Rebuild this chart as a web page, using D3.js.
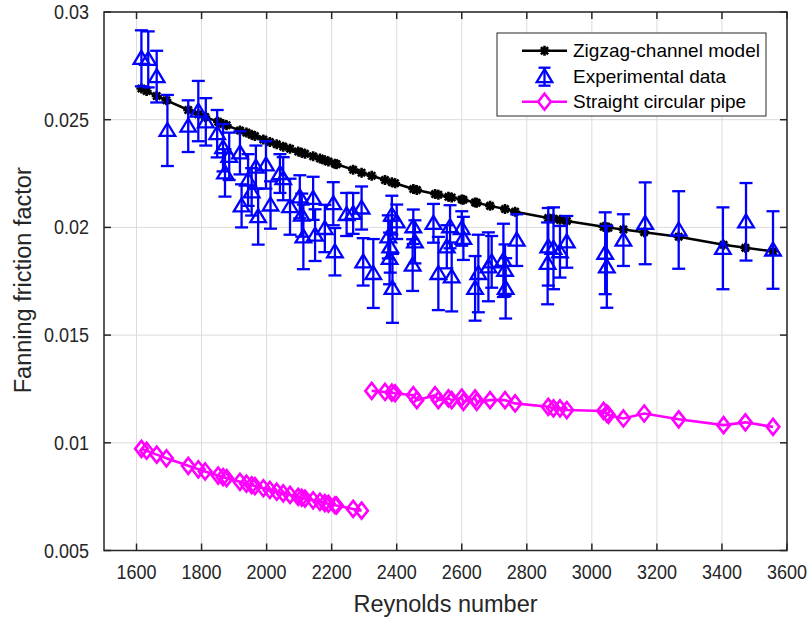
<!DOCTYPE html>
<html>
<head>
<meta charset="utf-8">
<script src="https://cdn.jsdelivr.net/npm/d3@7"></script>
<style>
  html, body { margin: 0; padding: 0; background: #ffffff; }
  svg { display: block; font-family: "Liberation Sans", Arial, Helvetica, sans-serif; }
</style>
</head>
<body>
<svg id="chart" width="812" height="623"></svg>
<script>
// Reynolds numbers of the laminar (Re < 2300) and turbulent test runs
const reLam = [1615, 1631, 1662, 1692, 1759, 1790, 1811, 1851, 1866, 1877,
  1918, 1938, 1954, 1964, 1990, 2010, 2031, 2051, 2072, 2097,
  2108, 2118, 2143, 2164, 2179, 2190, 2210, 2215, 2266, 2292];
const reTurb = [2323, 2364, 2385, 2395, 2451, 2462, 2518, 2528, 2559, 2569,
  2600, 2605, 2641, 2646, 2687, 2733, 2764, 2866, 2882, 2902,
  2923, 3036, 3046, 3051, 3097, 3161, 3267, 3405, 3472, 3557];

// Zigzag-channel model prediction at every run (laminar runs, then turbulent runs)
const modelF = [0.02645, 0.02633, 0.02610, 0.02590, 0.02545, 0.02525, 0.02513, 0.02490, 0.02480, 0.02474,
  0.02450, 0.02440, 0.02430, 0.02424, 0.02408, 0.02396, 0.02386, 0.02375, 0.02365, 0.02352,
  0.02347, 0.02342, 0.02330, 0.02320, 0.02312, 0.02306, 0.02296, 0.02293, 0.02268, 0.02254,
  0.02240, 0.02220, 0.02210, 0.02205, 0.02178, 0.02174, 0.02155, 0.02152, 0.02142, 0.02139,
  0.02130, 0.02128, 0.02116, 0.02114, 0.02100, 0.02085, 0.02073, 0.02044, 0.02040, 0.02035,
  0.02030, 0.02003, 0.02000, 0.01999, 0.01990, 0.01978, 0.01957, 0.01919, 0.01905, 0.01889];

// Straight circular pipe friction factor
const pipeLam = [0.00972, 0.00963, 0.00945, 0.00928, 0.00893, 0.00877, 0.00867, 0.00848, 0.00841, 0.00836,
  0.00819, 0.00810, 0.00803, 0.00799, 0.00789, 0.00781, 0.00773, 0.00765, 0.00758, 0.00749,
  0.00745, 0.00741, 0.00733, 0.00726, 0.00720, 0.00717, 0.00710, 0.00709, 0.00693, 0.00685];
const pipeTurb = [0.01241, 0.01236, 0.01233, 0.01230, 0.01221, 0.01198, 0.01221, 0.01198, 0.01206, 0.01198,
  0.01210, 0.01190, 0.01206, 0.01190, 0.01198, 0.01198, 0.01183, 0.01167, 0.01160, 0.01160,
  0.01152, 0.01148, 0.01136, 0.01129, 0.01113, 0.01136, 0.01109, 0.01082, 0.01095, 0.01074];

// Measured friction factor with its uncertainty
const expRe = [1615, 1636, 1662, 1695, 1759, 1790, 1813, 1848, 1866, 1872,
  1885, 1918, 1923, 1943, 1954, 1967, 1974, 1998, 2012, 2041,
  2051, 2072, 2102, 2108, 2113, 2143, 2149, 2179, 2205, 2210,
  2246, 2266, 2292, 2297, 2328, 2374, 2378, 2380, 2385, 2387,
  2400, 2449, 2451, 2456, 2513, 2528, 2554, 2564, 2569, 2600,
  2605, 2641, 2651, 2682, 2692, 2728, 2733, 2735, 2769, 2864,
  2866, 2882, 2902, 2923, 3041, 3046, 3097, 3164, 3267, 3403,
  3474, 3557];
const expF = [0.02785, 0.02780, 0.02700, 0.02450, 0.02470, 0.02540, 0.02490, 0.02435, 0.02370, 0.02253,
  0.02330, 0.02346, 0.02100, 0.02220, 0.02165, 0.02280, 0.02050, 0.02290, 0.02104, 0.02250,
  0.02226, 0.02096, 0.02142, 0.02057, 0.01956, 0.02135, 0.01964, 0.01995, 0.02110, 0.01887,
  0.02060, 0.02065, 0.02090, 0.01840, 0.01786, 0.01956, 0.01856, 0.01910, 0.02057, 0.01717,
  0.02026, 0.01825, 0.02003, 0.01933, 0.02019, 0.01786, 0.01910, 0.02003, 0.01770, 0.01995,
  0.01949, 0.01717, 0.01786, 0.01817, 0.01840, 0.01847, 0.01801, 0.01717, 0.01941, 0.01833,
  0.01910, 0.01903, 0.01887, 0.01933, 0.01880, 0.01817, 0.01941, 0.02019, 0.01988, 0.01903,
  0.02026, 0.01895];
const expErr = [0.00130, 0.00130, 0.00120, 0.00165, 0.00120, 0.00140, 0.00110, 0.00110, 0.00110, 0.00110,
  0.00110, 0.00100, 0.00100, 0.00120, 0.00110, 0.00100, 0.00130, 0.00110, 0.00110, 0.00090,
  0.00100, 0.00130, 0.00100, 0.00100, 0.00150, 0.00100, 0.00120, 0.00110, 0.00100, 0.00110,
  0.00100, 0.00095, 0.00100, 0.00110, 0.00160, 0.00100, 0.00120, 0.00120, 0.00090, 0.00160,
  0.00080, 0.00120, 0.00080, 0.00100, 0.00090, 0.00170, 0.00100, 0.00100, 0.00160, 0.00080,
  0.00100, 0.00150, 0.00180, 0.00160, 0.00120, 0.00170, 0.00120, 0.00140, 0.00120, 0.00190,
  0.00180, 0.00190, 0.00120, 0.00120, 0.00190, 0.00190, 0.00120, 0.00190, 0.00180, 0.00190,
  0.00180, 0.00180];

// Axis ticks
const xTicks = [1600, 1800, 2000, 2200, 2400, 2600, 2800, 3000, 3200, 3400, 3600];
const yTicks = [0.005, 0.01, 0.015, 0.02, 0.025, 0.03];
const yTickLabels = ["0.005", "0.01", "0.015", "0.02", "0.025", "0.03"];

const legendNames = ["Zigzag-channel model", "Experimental data", "Straight circular pipe"];

const colModel = "#000000", colExp = "#0000ff", colPipe = "#ff00ff", colAxis = "#262626";

const M = { left: 104, right: 787, top: 12, bottom: 550.5 };
const x = d3.scaleLinear().domain([1500, 3600]).range([M.left, M.right]);
const y = d3.scaleLinear().domain([0.005, 0.03]).range([M.bottom, M.top]);

const svg = d3.select("#chart");

// grid
const grid = svg.append("g").attr("stroke", "#dcdcdc").attr("stroke-width", 1);
grid.selectAll(".gx").data(xTicks).join("line")
  .attr("x1", d => x(d)).attr("x2", d => x(d)).attr("y1", M.top).attr("y2", M.bottom);
grid.selectAll(".gy").data(yTicks).join("line")
  .attr("x1", M.left).attr("x2", M.right).attr("y1", d => y(d)).attr("y2", d => y(d));

// marker shapes
const asterisk = r => `M${-r},0H${r}M0,${-r}V${r}M${-r*0.72},${-r*0.72}L${r*0.72},${r*0.72}M${-r*0.72},${r*0.72}L${r*0.72},${-r*0.72}`;
const triangle = "M0,-7.5L7.8,5.5L-7.8,5.5Z";
const diamond = "M0,-8L6.3,0L0,8L-6.3,0Z";

const reAll = reLam.concat(reTurb);
const model = reAll.map((r, i) => ({ r, f: modelF[i] }));
const lam = reLam.map((r, i) => ({ r, f: pipeLam[i] }));
const turb = reTurb.map((r, i) => ({ r, f: pipeTurb[i] }));
const exp = expRe.map((r, i) => ({ r, f: expF[i], e: expErr[i] }));

const line = d3.line().x(d => x(d.r)).y(d => y(d.f));

// model curve with asterisk markers
const gModel = svg.append("g");
gModel.append("path").datum(model).attr("d", line)
  .attr("fill", "none").attr("stroke", colModel).attr("stroke-width", 2.5);
gModel.selectAll("path.m").data(model).join("path").attr("class", "m")
  .attr("transform", d => `translate(${x(d.r)},${y(d.f)})`)
  .attr("d", asterisk(5)).attr("stroke", colModel).attr("stroke-width", 2.6).attr("fill", "none");

// experimental points with error bars
const gExp = svg.append("g").attr("stroke", colExp).attr("stroke-width", 2.3).attr("fill", "none");
const eb = gExp.selectAll("g").data(exp).join("g");
eb.append("line").attr("x1", d => x(d.r)).attr("x2", d => x(d.r))
  .attr("y1", d => y(d.f - d.e)).attr("y2", d => y(d.f + d.e));
eb.append("line").attr("x1", d => x(d.r) - 6.5).attr("x2", d => x(d.r) + 6.5)
  .attr("y1", d => y(d.f + d.e)).attr("y2", d => y(d.f + d.e));
eb.append("line").attr("x1", d => x(d.r) - 6.5).attr("x2", d => x(d.r) + 6.5)
  .attr("y1", d => y(d.f - d.e)).attr("y2", d => y(d.f - d.e));
eb.append("path").attr("d", triangle)
  .attr("transform", d => `translate(${x(d.r)},${y(d.f)})`);

// straight pipe: laminar and turbulent branches
const gPipe = svg.append("g").attr("stroke", colPipe).attr("stroke-width", 2.6).attr("fill", "none");
[lam, turb].forEach(seg => {
  gPipe.append("path").datum(seg).attr("d", line);
  gPipe.append("g").selectAll("path").data(seg).join("path")
    .attr("transform", d => `translate(${x(d.r)},${y(d.f)})`).attr("d", diamond);
});

// axes box with inward ticks on all four sides
const gAx = svg.append("g").attr("stroke", colAxis).attr("stroke-width", 1.5).attr("fill", "none");
gAx.append("rect").attr("x", M.left).attr("y", M.top)
  .attr("width", M.right - M.left).attr("height", M.bottom - M.top);
const tl = 7;
xTicks.forEach(t => {
  gAx.append("line").attr("x1", x(t)).attr("x2", x(t)).attr("y1", M.bottom).attr("y2", M.bottom - tl);
  gAx.append("line").attr("x1", x(t)).attr("x2", x(t)).attr("y1", M.top).attr("y2", M.top + tl);
});
yTicks.forEach(t => {
  gAx.append("line").attr("x1", M.left).attr("x2", M.left + tl).attr("y1", y(t)).attr("y2", y(t));
  gAx.append("line").attr("x1", M.right).attr("x2", M.right - tl).attr("y1", y(t)).attr("y2", y(t));
});

// tick labels (slightly tall glyphs)
const stretch = 1.08;
svg.append("g").selectAll("text").data(xTicks).join("text")
  .attr("transform", d => `translate(${x(d)},${M.bottom + 28}) scale(1,${stretch})`)
  .attr("text-anchor", "middle").attr("font-size", 18).attr("fill", colAxis)
  .text(d => d);
svg.append("g").selectAll("text").data(yTicks).join("text")
  .attr("transform", d => `translate(${M.left - 15},${y(d) + 7}) scale(1,${stretch})`)
  .attr("text-anchor", "end").attr("font-size", 18).attr("fill", colAxis)
  .text((d, i) => yTickLabels[i]);

// axis titles
svg.append("text").attr("x", (M.left + M.right) / 2).attr("y", 612)
  .attr("text-anchor", "middle").attr("font-size", 23.5).attr("fill", colAxis)
  .text("Reynolds number");
svg.append("text").attr("transform", `translate(30.5,${(M.top + M.bottom) / 2 - 1}) rotate(-90)`)
  .attr("text-anchor", "middle").attr("font-size", 23.5).attr("fill", colAxis)
  .text("Fanning friction factor");

// legend
const L = { x: 497, y: 33, w: 269, h: 83 };
const gL = svg.append("g");
gL.append("rect").attr("x", L.x).attr("y", L.y).attr("width", L.w).attr("height", L.h)
  .attr("fill", "#ffffff").attr("stroke", colAxis).attr("stroke-width", 1);
const rows = [50.7, 76.7, 101.7];
const sx1 = 522, sx2 = 567, sxm = 544.5;
// model row
gL.append("line").attr("x1", sx1).attr("x2", sx2).attr("y1", rows[0]).attr("y2", rows[0])
  .attr("stroke", colModel).attr("stroke-width", 2.5);
gL.append("path").attr("d", asterisk(5)).attr("transform", `translate(${sxm},${rows[0]})`)
  .attr("stroke", colModel).attr("stroke-width", 2.6);
// experimental row
const gLe = gL.append("g").attr("stroke", colExp).attr("stroke-width", 2.3).attr("fill", "none");
gLe.append("line").attr("x1", sxm).attr("x2", sxm).attr("y1", rows[1] - 9).attr("y2", rows[1] + 9);
gLe.append("line").attr("x1", sxm - 6).attr("x2", sxm + 6).attr("y1", rows[1] - 9).attr("y2", rows[1] - 9);
gLe.append("line").attr("x1", sxm - 6).attr("x2", sxm + 6).attr("y1", rows[1] + 9).attr("y2", rows[1] + 9);
gLe.append("path").attr("d", triangle).attr("transform", `translate(${sxm},${rows[1]})`);
// pipe row
gL.append("line").attr("x1", sx1).attr("x2", sx2).attr("y1", rows[2]).attr("y2", rows[2])
  .attr("stroke", colPipe).attr("stroke-width", 2.6);
gL.append("path").attr("d", diamond).attr("transform", `translate(${sxm},${rows[2]})`)
  .attr("stroke", colPipe).attr("stroke-width", 2.6).attr("fill", "#ffffff");
gL.selectAll("text").data(legendNames).join("text")
  .attr("x", 573).attr("y", (d, i) => rows[i] + 6.5)
  .attr("font-size", 19).attr("fill", "#000000").text(d => d);
</script>
</body>
</html>
